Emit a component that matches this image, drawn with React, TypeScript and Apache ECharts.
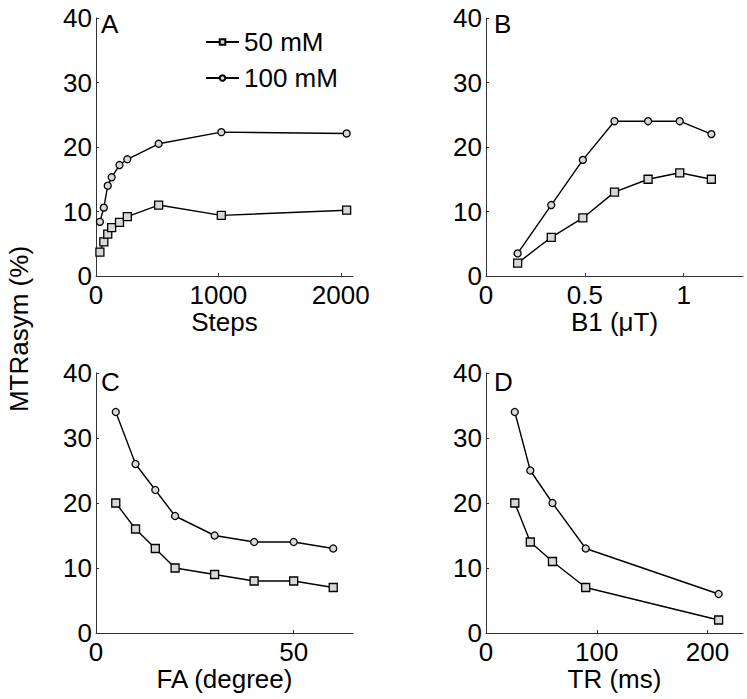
import React, { useEffect, useRef } from "react";
import * as echarts from "echarts";

// Panel A: Steps
const stepsX = [32, 64, 96, 128, 192, 256, 512, 1024, 2048];
const stepsY50 = [3.7, 5.3, 6.5, 7.5, 8.3, 9.2, 11.0, 9.4, 10.2];
const stepsY100 = [8.4, 10.6, 14.0, 15.3, 17.2, 18.1, 20.5, 22.3, 22.1];
// Panel B: B1 (µT)
const b1X = [0.16, 0.33, 0.49, 0.65, 0.82, 0.98, 1.14];
const b1Y50 = [2, 6, 9, 13, 15, 16, 15];
const b1Y100 = [3.5, 11, 18, 24, 24, 24, 22];
// Panel C: FA (degree)
const faX = [5, 10, 15, 20, 30, 40, 50, 60];
const faY50 = [20, 16, 13, 10, 9, 8, 8, 7];
const faY100 = [34, 26, 22, 18, 15, 14, 14, 13];
// Panel D: TR (ms)
const trX = [26, 40, 60, 90, 210];
const trY50 = [20, 14, 11, 7, 2];
const trY100 = [34, 25, 20, 13, 6];

const seriesNames = ["50 mM", "100 mM"];
const panelLetters = ["A", "B", "C", "D"];
const xTitles = ["Steps", "B1 (\u03bcT)", "FA (degree)", "TR (ms)"];
const xMax = [2100, 1.3, 65, 232];
const xTicks = [[0, 1000, 2000], [0, 0.5, 1], [0, 50], [0, 100, 200]];
const yTitle = "MTRasym (%)";

const FONT = "'Liberation Sans', Arial, sans-serif";

export default function App() {
  const ref = useRef<HTMLDivElement>(null);
  useEffect(() => {
    if (!ref.current) return;
    const chart = echarts.init(ref.current, null, { renderer: "svg" });
    const grids = [
      { left: 96, top: 18, width: 257, height: 258 },
      { left: 486, top: 18, width: 257, height: 258 },
      { left: 96, top: 373, width: 257, height: 260 },
      { left: 486, top: 373, width: 257, height: 260 },
    ];
    const letterPos = [
      [101, 24],
      [494, 24],
      [101, 382],
      [494, 382],
    ];
    const panels = [
      [stepsX, stepsY50, stepsY100],
      [b1X, b1Y50, b1Y100],
      [faX, faY50, faY100],
      [trX, trY50, trY100],
    ];
    const axisLine = { show: true, lineStyle: { color: "#333", width: 1 } };
    const axisTick = { show: true, inside: true, length: 3, lineStyle: { color: "#333" } };
    const labelStyle = { color: "#000", fontSize: 26, fontFamily: FONT };
    const fmt = (v: number) => String(v);

    const xAxis = grids.map((_, i) => ({
      type: "value",
      gridIndex: i,
      min: 0,
      max: xMax[i],
      axisLine,
      axisTick: { ...axisTick, customValues: xTicks[i] },
      axisLabel: { ...labelStyle, lineHeight: 22, margin: 8, customValues: xTicks[i], formatter: fmt },
      splitLine: { show: false },
      name: xTitles[i],
      nameLocation: "middle",
      nameGap: i < 2 ? 30 : 32,
      nameTextStyle: { ...labelStyle, lineHeight: 22, verticalAlign: "top" },
    }));
    const yAxis = grids.map((_, i) => ({
      type: "value",
      gridIndex: i,
      min: 0,
      max: 40,
      interval: 10,
      axisLine,
      axisTick,
      axisLabel: { ...labelStyle, margin: 4, formatter: fmt },
      splitLine: { show: false },
    }));
    const series: any[] = [];
    panels.forEach((p, i) => {
      const xs = p[0] as number[];
      [1, 2].forEach((k) => {
        const ys = p[k] as number[];
        series.push({
          type: "line",
          name: seriesNames[k - 1],
          xAxisIndex: i,
          yAxisIndex: i,
          data: xs.map((x, j) => [x, ys[j]]),
          symbol: k === 1 ? "rect" : "circle",
          symbolSize: k === 1 ? 8 : 7,
          lineStyle: { color: "#000", width: 1.4 },
          itemStyle: { color: "#d8d8d8", borderColor: "#000", borderWidth: 1.3 },
          emphasis: { disabled: true },
        });
      });
    });
    chart.setOption({
      animation: false,
      backgroundColor: "#fff",
      grid: grids,
      xAxis,
      yAxis,
      series,
      legend: {
        data: seriesNames,
        orient: "vertical",
        left: 205,
        top: 29,
        padding: 0,
        itemWidth: 33,
        itemHeight: 7,
        itemGap: 10,
        textStyle: { color: "#000", fontSize: 26, fontFamily: FONT, lineHeight: 26 },
        selectedMode: false,
      },
      graphic: [
        {
          type: "text",
          x: 19,
          y: 329,
          rotation: Math.PI / 2,
          style: {
            text: yTitle,
            fill: "#000",
            font: `26px ${FONT}`,
            textAlign: "center",
            textVerticalAlign: "middle",
          },
        },
        ...panelLetters.map((t, i) => ({
          type: "text",
          x: letterPos[i][0],
          y: letterPos[i][1],
          style: {
            text: t,
            fill: "#000",
            font: `26px ${FONT}`,
            textAlign: "left",
            textVerticalAlign: "middle",
          },
        })),
      ],
    });
    return () => chart.dispose();
  }, []);
  return (
    <div
      ref={ref}
      style={{ position: "absolute", left: 0, top: 0, width: 747, height: 699 }}
    />
  );
}
